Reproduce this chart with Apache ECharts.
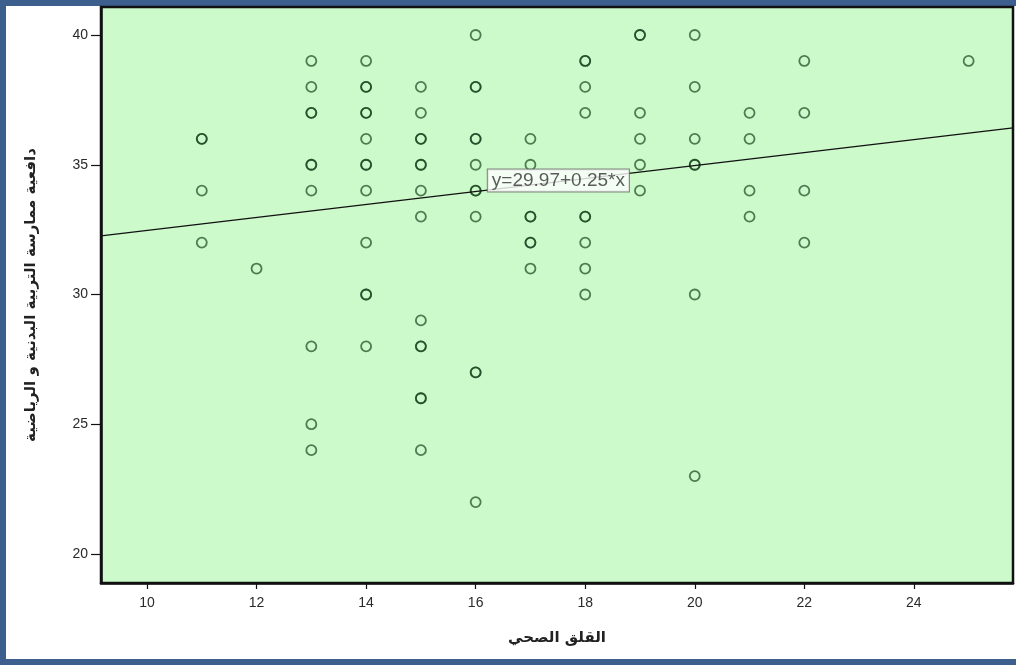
<!DOCTYPE html>
<html>
<head>
<meta charset="utf-8">
<script src="https://cdn.jsdelivr.net/npm/echarts@6/dist/echarts.min.js"></script>
<style>
html,body{margin:0;padding:0;background:#fff;}
#c{width:1016px;height:665px;}
</style>
</head>
<body>
<div id="c"></div>
<script>
// Health anxiety (x) and motivation (y); repeated pairs = overlapping cases
const anxiety = [
  11,11,11,11,
  12,
  13,13,13,13,13,13,13,13,13,13,
  14,14,14,14,14,14,14,14,14,14,14,14,14,
  15,15,15,15,15,15,15,15,15,15,15,15,15,15,
  16,16,16,16,16,16,16,16,16,16,16,16,
  17,17,17,17,17,17,17,
  18,18,18,18,18,18,18,18,18,
  19,19,19,19,19,19,
  20,20,20,20,20,20,20,
  21,21,21,21,
  22,22,22,22,
  25
];
const motivation = [
  36,36,34,32,
  31,
  39,38,37,37,35,35,34,28,25,24,
  39,38,38,37,37,36,35,35,34,32,30,30,28,
  38,37,36,36,35,35,34,33,29,28,28,26,26,24,
  40,38,38,36,36,35,34,34,33,27,27,22,
  36,35,33,33,32,32,31,
  39,39,38,37,33,33,32,31,30,
  40,40,37,36,35,34,
  40,38,36,35,35,30,23,
  37,36,34,33,
  39,37,34,32,
  39
];
const xTicks = [10,12,14,16,18,20,22,24];
const yTicks = [20,25,30,35,40];
const intercept = 29.97;
const slope = 0.25;
const xRange = [9.16, 25.81];
const yRange = [18.88, 41.08];
const eqLabel = 'y=29.97+0.25*x';
const eqAnchor = [17.51, 34.39];
const xTitle = 'القلق الصحي';
const yTitle = 'دافعية ممارسة التربية البدنية و الرياضية';

const points = anxiety.map((x, i) => [x, motivation[i]]);
const fitLine = [xRange[0], xRange[1]].map(x => [x, intercept + slope * x]);

const chart = echarts.init(document.getElementById('c'), null, {renderer: 'canvas'});
chart.setOption({
  animation: false,
  backgroundColor: '#fff',
  graphic: [
    {type: 'rect', shape: {x: 0, y: 0, width: 1016, height: 6}, style: {fill: '#3c5f8e'}, z: -10},
    {type: 'rect', shape: {x: 0, y: 659, width: 1016, height: 6}, style: {fill: '#3c5f8e'}, z: -10},
    {type: 'rect', shape: {x: 0, y: 0, width: 6, height: 665}, style: {fill: '#3c5f8e'}, z: -10}
  ],
  grid: {left: 101, top: 7, right: 3, bottom: 82, show: true,
         backgroundColor: '#cdfaca', borderColor: '#111', borderWidth: 2.5},
  xAxis: {
    type: 'value', min: xRange[0], max: xRange[1],
    name: xTitle, nameLocation: 'middle', nameGap: 48,
    nameTextStyle: {fontFamily: 'DejaVu Sans', fontSize: 15, fontWeight: 'bold', color: '#222'},
    axisLine: {show: true, onZero: false, lineStyle: {color: '#111', width: 2.5}},
    axisTick: {show: true, length: 6, lineStyle: {color: '#111', width: 1.2}, customValues: xTicks},
    axisLabel: {color: '#2a2a2a', fontSize: 14, fontFamily: 'Liberation Sans', margin: 13, customValues: xTicks},
    splitLine: {show: false}
  },
  yAxis: {
    type: 'value', min: yRange[0], max: yRange[1],
    name: yTitle, nameLocation: 'middle', nameGap: 62, nameRotate: 90,
    nameTextStyle: {fontFamily: 'DejaVu Sans', fontSize: 15, fontWeight: 'bold', color: '#222'},
    axisLine: {show: true, onZero: false, lineStyle: {color: '#111', width: 2.5}},
    axisTick: {show: true, length: 10, lineStyle: {color: '#111', width: 1.2}, customValues: yTicks},
    axisLabel: {color: '#2a2a2a', fontSize: 14, fontFamily: 'Liberation Sans', margin: 13, customValues: yTicks},
    splitLine: {show: false}
  },
  series: [
    {
      type: 'scatter', data: points, symbol: 'circle', symbolSize: 10,
      itemStyle: {color: 'rgba(0,0,0,0)', borderColor: 'rgba(20,62,26,0.85)', borderWidth: 1.8},
      emphasis: {disabled: true}, z: 3
    },
    {
      type: 'line', data: fitLine, showSymbol: false, symbol: 'none',
      lineStyle: {color: '#111', width: 1.3}, emphasis: {disabled: true}, z: 4
    },
    {
      type: 'scatter', data: [eqAnchor], symbolSize: 1,
      itemStyle: {color: 'rgba(0,0,0,0)'},
      label: {show: true, position: 'inside', formatter: eqLabel,
              fontFamily: 'Liberation Sans', fontSize: 19, color: '#333',
              backgroundColor: '#fff', borderColor: '#666', borderWidth: 1, padding: [2, 4, 1, 4]},
      emphasis: {disabled: true}, z: 6
    }
  ]
});
</script>
</body>
</html>
